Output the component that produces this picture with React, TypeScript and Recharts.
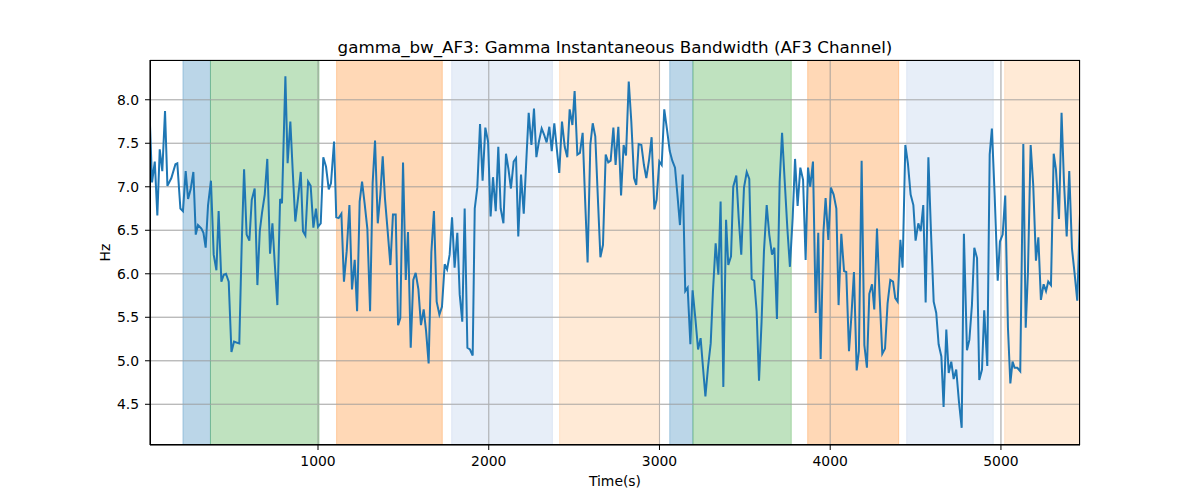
import {
  CartesianGrid,
  Line,
  LineChart,
  ReferenceArea,
  ReferenceLine,
  XAxis,
  YAxis,
} from 'recharts';

// time (s) of each sample
const times = [
  16, 28, 44, 59, 73, 88, 104, 118, 141, 165, 176, 194, 209, 225, 239, 254, 270, 284, 297, 317,
  329, 342, 356, 373, 389, 405, 418, 434, 448, 461, 477, 493, 508, 522, 539, 553, 567, 582, 598, 612,
  629, 645, 659, 672, 688, 703, 719, 733,
  746, 762, 778, 789, 809, 822, 838, 852, 867, 883, 899, 912, 926, 942, 957, 973, 988, 1000, 1016, 1031,
  1047, 1063, 1076, 1094, 1107, 1121, 1137, 1152, 1168, 1184, 1199, 1215, 1229, 1244, 1258, 1273, 1289, 1305, 1320, 1334,
  1350, 1365, 1379, 1392, 1408, 1424, 1439,
  1455, 1469, 1482, 1498, 1514, 1527, 1543, 1558, 1572, 1588, 1603, 1619, 1633, 1648, 1664, 1679, 1695, 1711, 1726, 1742,
  1756, 1771, 1785, 1800, 1816, 1830, 1845, 1859, 1875, 1890, 1906, 1918, 1933, 1949, 1964, 1980, 1996, 2011, 2025, 2041,
  2056, 2070, 2086, 2101, 2115, 2130, 2146,
  2160, 2173, 2189, 2205, 2220, 2234, 2250, 2265, 2279, 2294, 2310, 2324, 2339, 2355, 2369, 2384, 2400, 2413, 2429, 2445,
  2460, 2474, 2490, 2503, 2519, 2534, 2550, 2564, 2579, 2595, 2609, 2624, 2640, 2654, 2669, 2685, 2700, 2714, 2730, 2743,
  2759, 2775, 2790, 2804, 2820, 2835, 2851,
  2864, 2878, 2894, 2909, 2923, 2939, 2954, 2970, 2983, 2999, 3013, 3028, 3044, 3060, 3075, 3091, 3105, 3120, 3136, 3151,
  3165, 3181, 3194, 3210, 3226, 3241, 3255, 3269, 3284, 3300, 3313, 3329, 3345, 3358, 3374, 3390, 3403, 3419, 3432, 3450,
  3464, 3479, 3495, 3511, 3526, 3540, 3555,
  3569, 3583, 3598, 3612, 3628, 3643, 3659, 3673, 3688, 3704, 3718, 3733, 3749, 3764, 3780, 3794, 3809, 3825, 3841, 3856,
  3870, 3883, 3899, 3915, 3930, 3944, 3960, 3973, 3989, 4004, 4020, 4036, 4049, 4065, 4081, 4094, 4110, 4124, 4139, 4155,
  4168, 4184, 4200, 4215, 4229, 4245, 4258,
  4274, 4289, 4305, 4321, 4336, 4352, 4368, 4381, 4395, 4411, 4424, 4440, 4455, 4471, 4487, 4500, 4516, 4530, 4545, 4559,
  4575, 4590, 4606, 4621, 4635, 4651, 4664, 4680, 4694, 4709, 4723, 4738, 4754, 4770, 4783, 4801, 4815, 4830, 4844, 4860,
  4873, 4889, 4902, 4920, 4934, 4947, 4963,
  4981, 4994, 5010, 5025, 5041, 5055, 5068, 5080, 5096, 5113, 5131, 5145, 5158, 5174, 5189, 5205, 5219, 5234, 5250, 5264,
  5277, 5293, 5309, 5322, 5340, 5355, 5369, 5385, 5400, 5416, 5432, 5447, 5463,
];

// gamma instantaneous bandwidth, Hz
const bandwidth = [
  7.71, 7.05, 7.29, 6.67, 7.43, 7.18, 7.87, 7.01, 7.1, 7.26, 7.27, 6.75, 6.72, 7.18, 6.86, 6.97, 7.17, 6.45, 6.56, 6.52,
  6.47, 6.3, 6.79, 7.07, 6.22, 6.04, 6.72, 5.91, 5.99, 6.0, 5.91, 5.1, 5.22, 5.21, 5.2, 6.33, 7.2, 6.45, 6.38, 6.85,
  6.98, 5.87, 6.49, 6.7, 6.91, 7.32, 6.23, 6.58,
  6.14, 5.64, 6.86, 6.81, 8.27, 7.27, 7.75, 7.18, 6.6, 6.87, 7.17, 6.49, 6.44, 7.06, 7.01, 6.53, 6.75, 6.54, 6.58, 7.34,
  7.23, 6.97, 7.04, 7.52, 6.65, 6.64, 6.69, 5.91, 6.26, 6.79, 5.82, 6.16, 5.57, 6.83, 7.06, 6.81, 6.52, 5.57, 7.04, 7.53,
  6.58, 6.91, 7.35, 6.87, 6.49, 6.1, 6.68,
  6.68, 5.41, 5.49, 7.28, 5.93, 6.48, 5.15, 5.93, 6.01, 5.82, 5.41, 5.59, 5.34, 4.97, 6.25, 6.72, 5.68, 5.53, 5.62, 6.11,
  6.05, 6.22, 6.65, 6.07, 6.47, 5.76, 5.45, 6.75, 5.15, 5.13, 5.06, 6.75, 6.99, 7.72, 7.07, 7.68, 7.52, 6.66, 7.11, 6.72,
  7.46, 6.75, 6.58, 7.38, 7.21, 6.98, 7.29,
  7.33, 6.43, 7.14, 6.69, 7.3, 7.85, 7.48, 7.9, 7.34, 7.52, 7.67, 7.6, 7.51, 7.69, 7.41, 7.73, 7.41, 7.16, 7.75, 7.46,
  7.34, 7.89, 7.71, 8.1, 7.37, 7.39, 7.62, 6.87, 6.13, 7.48, 7.73, 7.58, 6.83, 6.19, 6.33, 7.37, 7.28, 7.3, 7.68, 7.25,
  7.69, 6.9, 7.48, 7.36, 8.21, 7.75, 7.1,
  7.02, 7.49, 7.48, 7.25, 7.1, 7.31, 7.57, 6.74, 6.85, 7.29, 7.25, 7.89, 7.66, 7.41, 7.3, 7.22, 6.91, 6.56, 7.14, 5.8,
  5.84, 5.19, 5.81, 5.49, 5.13, 5.26, 4.92, 4.59, 4.92, 5.2, 5.79, 6.35, 5.99, 6.83, 4.7, 6.62, 6.1, 6.2, 7.0, 7.13,
  6.64, 6.22, 6.99, 7.17, 7.09, 5.94, 5.92,
  5.57, 4.77, 5.45, 6.26, 6.79, 6.45, 6.22, 6.3, 5.48, 7.06, 7.62, 7.08, 6.52, 6.08, 6.64, 7.32, 6.78, 7.22, 7.08, 6.16,
  7.22, 7.0, 7.29, 5.55, 6.47, 5.02, 6.47, 6.87, 6.39, 6.99, 6.91, 6.75, 5.64, 6.46, 6.03, 6.02, 5.11, 5.51, 6.02, 4.89,
  5.11, 7.3, 5.18, 4.92, 5.77, 5.88, 5.59,
  6.52, 5.76, 5.08, 5.14, 5.66, 5.93, 5.91, 5.72, 5.68, 6.39, 6.07, 7.48, 7.27, 6.91, 6.79, 6.38, 6.58, 6.49, 6.79, 5.67,
  7.34, 6.49, 5.68, 5.55, 5.19, 5.05, 4.47, 5.36, 4.86, 4.99, 4.79, 4.9, 4.53, 4.23, 6.46, 5.12, 5.24, 5.64, 6.3, 6.18,
  4.78, 4.9, 5.58, 4.94, 7.37, 7.67, 6.91,
  5.92, 6.37, 6.45, 6.9, 5.38, 4.74, 4.99, 4.92, 4.92, 4.88, 7.49, 5.38, 6.01, 7.48, 7.02, 6.15, 6.42, 5.7, 5.88, 5.8,
  5.91, 5.87, 7.38, 7.2, 6.63, 7.85, 7.06, 6.43, 7.18, 6.29, 5.99, 5.69, 6.69,
];

// shaded task segments
const spanStart = [209, 370, 1109, 1783, 2415, 3060, 3196, 3868, 4448, 5022];
const spanEnd = [370, 1006, 1728, 2373, 3001, 3196, 3772, 4401, 4955, 5463];
const spanColor = [
  '#1f77b4', '#2ca02c', '#ff7f0e', '#aec7e8', '#ffbb78',
  '#1f77b4', '#2ca02c', '#ff7f0e', '#aec7e8', '#ffbb78',
];

const xTicks = [1000, 2000, 3000, 4000, 5000];
const yTicks = [4.5, 5.0, 5.5, 6.0, 6.5, 7.0, 7.5, 8.0];

const data = times.map((t, i) => ({ t, v: bandwidth[i] }));

const font = '"DejaVu Sans", sans-serif';
const tickStyle = { fontSize: 13.9, fill: '#000', fontFamily: font };
const gridColor = '#b0b0b0';

export default function App() {
  return (
    <div style={{ position: 'absolute', left: 0, top: 0, width: 1200, height: 500, background: '#fff' }}>
      <LineChart
        width={1200}
        height={500}
        data={data}
        margin={{ top: 60, right: 120, bottom: 15, left: 100 }}
      >
        <CartesianGrid stroke={gridColor} strokeWidth={0.8} />
        {spanStart.map((s, i) => (
          <ReferenceArea
            key={`a${i}`}
            x1={s}
            x2={spanEnd[i]}
            fill={spanColor[i]}
            fillOpacity={0.3}
            stroke={spanColor[i]}
            strokeOpacity={0.3}
            strokeWidth={1}
            ifOverflow="hidden"
          />
        ))}
        {/* grid drawn again so it sits over the shaded spans, as in matplotlib */}
        {xTicks.map((t) => (
          <ReferenceLine key={`x${t}`} x={t} stroke={gridColor} strokeWidth={0.8} />
        ))}
        {yTicks.map((t) => (
          <ReferenceLine key={`y${t}`} y={t} stroke={gridColor} strokeWidth={0.8} />
        ))}
        <XAxis
          dataKey="t"
          type="number"
          domain={[16, 5463]}
          ticks={xTicks}
          allowDataOverflow
          height={40}
          tickSize={5}
          tickMargin={6}
          tick={tickStyle}
          axisLine={{ stroke: '#000' }}
          tickLine={{ stroke: '#000' }}
        />
        <YAxis
          type="number"
          domain={[4.032, 8.457]}
          ticks={yTicks}
          allowDataOverflow
          width={50}
          tickSize={5}
          tickMargin={6}
          tick={tickStyle}
          tickFormatter={(v) => v.toFixed(1)}
          axisLine={{ stroke: '#000' }}
          tickLine={{ stroke: '#000' }}
        />
        <Line
          dataKey="v"
          stroke="#1f77b4"
          strokeWidth={2}
          dot={false}
          activeDot={false}
          isAnimationActive={false}
        />
      </LineChart>
      <div
        style={{
          position: 'absolute',
          left: 150,
          top: 60,
          width: 930,
          height: 385,
          boxSizing: 'border-box',
          border: '1px solid #000',
          pointerEvents: 'none',
        }}
      />
      <svg
        width={1200}
        height={500}
        style={{ position: 'absolute', left: 0, top: 0, pointerEvents: 'none' }}
      >
        <text x={615} y={52.7} textAnchor="middle" fontSize={16.7} fontFamily={font}>
          gamma_bw_AF3: Gamma Instantaneous Bandwidth (AF3 Channel)
        </text>
        <text x={615} y={486} textAnchor="middle" fontSize={13.9} fontFamily={font}>
          Time(s)
        </text>
        <text
          x={110}
          y={252.5}
          textAnchor="middle"
          fontSize={13.9}
          fontFamily={font}
          transform="rotate(-90 110 252.5)"
        >
          Hz
        </text>
      </svg>
    </div>
  );
}
